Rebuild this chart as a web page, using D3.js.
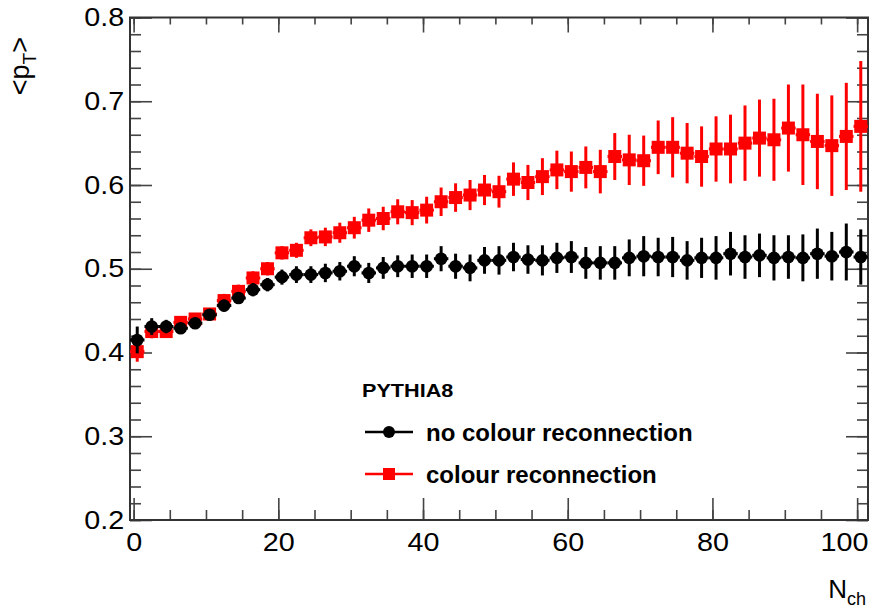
<!DOCTYPE html>
<html>
<head>
<meta charset="utf-8">
<script src="https://cdn.jsdelivr.net/npm/d3@7"></script>
<style>
body { margin: 0; background: #fff; }
svg { display: block; font-family: "Liberation Sans", Arial, Helvetica, sans-serif; }
</style>
</head>
<body>
<svg width="883" height="611"></svg>
<script>
// bin centres in N_ch
var nch = [0.5, 2.5, 4.5, 6.5, 8.5, 10.5, 12.5, 14.5, 16.5, 18.5,
           20.5, 22.5, 24.5, 26.5, 28.5, 30.5, 32.5, 34.5, 36.5, 38.5,
           40.5, 42.5, 44.5, 46.5, 48.5, 50.5, 52.5, 54.5, 56.5, 58.5,
           60.5, 62.5, 64.5, 66.5, 68.5, 70.5, 72.5, 74.5, 76.5, 78.5,
           80.5, 82.5, 84.5, 86.5, 88.5, 90.5, 92.5, 94.5, 96.5, 98.5, 100.5];

// no colour reconnection (black)
var noCR = [0.415, 0.431, 0.431, 0.429, 0.435, 0.445, 0.456, 0.465, 0.475, 0.481,
            0.490, 0.493, 0.493, 0.495, 0.497, 0.503, 0.495, 0.501, 0.503, 0.503,
            0.503, 0.512, 0.503, 0.501, 0.510, 0.510, 0.514, 0.511, 0.510, 0.513,
            0.514, 0.507, 0.507, 0.507, 0.513, 0.515, 0.514, 0.514, 0.510, 0.513,
            0.513, 0.518, 0.514, 0.516, 0.513, 0.514, 0.513, 0.518, 0.515, 0.520, 0.514];
var noCRErr = [0.016, 0.010, 0.008, 0.006, 0.006, 0.006, 0.007, 0.007, 0.008, 0.008,
               0.009, 0.010, 0.010, 0.011, 0.011, 0.012, 0.012, 0.013, 0.013, 0.014,
               0.014, 0.015, 0.015, 0.016, 0.016, 0.017, 0.017, 0.017, 0.018, 0.018,
               0.019, 0.019, 0.020, 0.020, 0.022, 0.024, 0.023, 0.024, 0.023, 0.024,
               0.026, 0.026, 0.026, 0.026, 0.027, 0.026, 0.028, 0.030, 0.029, 0.034, 0.033];

// colour reconnection (red)
var withCR = [0.401, 0.425, 0.425, 0.436, 0.440, 0.446, 0.462, 0.473, 0.489, 0.500,
              0.519, 0.522, 0.537, 0.538, 0.543, 0.549, 0.558, 0.560, 0.568, 0.567,
              0.570, 0.580, 0.585, 0.588, 0.594, 0.592, 0.607, 0.603, 0.610, 0.618,
              0.616, 0.621, 0.616, 0.634, 0.630, 0.629, 0.645, 0.645, 0.638, 0.634,
              0.643, 0.643, 0.650, 0.656, 0.654, 0.668, 0.660, 0.652, 0.647, 0.658, 0.670];
var withCRErr = [0.012, 0.008, 0.007, 0.007, 0.007, 0.007, 0.008, 0.008, 0.008, 0.008,
                 0.008, 0.009, 0.010, 0.011, 0.012, 0.013, 0.014, 0.014, 0.015, 0.015,
                 0.016, 0.017, 0.017, 0.018, 0.018, 0.019, 0.020, 0.021, 0.022, 0.023,
                 0.024, 0.025, 0.026, 0.028, 0.030, 0.030, 0.032, 0.036, 0.036, 0.036,
                 0.039, 0.041, 0.045, 0.046, 0.049, 0.052, 0.060, 0.057, 0.060, 0.064, 0.078];

var xTicks = [0, 20, 40, 60, 80, 100];
var yTicks = [0.2, 0.3, 0.4, 0.5, 0.6, 0.7, 0.8];
var legendTitle = "PYTHIA8";
var legendLabels = ["no colour reconnection", "colour reconnection"];

left = 130; right = 868; top_ = 17.5; bottom = 520;
sx = 1.15; // ROOT fonts look a bit wider than Liberation Sans

var svg = d3.select("svg");

var x = d3.scaleLinear().domain([-0.5, 101.5]).range([left, right]);
var y = d3.scaleLinear().domain([0.2, 0.8]).range([bottom, top_]);

var xMinor = d3.range(0, 101, 5);
var yMinor = d3.range(0.2, 0.8001, 0.02);

// ticks (ROOT style, pointing inwards)
function styleAxis(g) {
  g.select(".domain").remove();
  g.selectAll(".tick line").attr("stroke", "#444").attr("stroke-width", 1.6);
}

svg.append("g").attr("transform", "translate(0," + bottom + ")")
  .call(d3.axisBottom(x).tickValues(xMinor).tickSize(-10).tickFormat(""))
  .call(styleAxis);
svg.append("g").attr("transform", "translate(0," + bottom + ")")
  .call(d3.axisBottom(x).tickValues(xTicks).tickSize(-22).tickPadding(13).tickFormat(d3.format("d")))
  .call(styleAxis)
  .call(g => g.selectAll("text").attr("font-size", 25).attr("fill", "#000")
    .attr("font-family", "Liberation Sans, Arial, sans-serif")
    .attr("transform", "scale(" + sx + ",1)"))
  .call(g => g.selectAll("text").filter(d => d == 100)
    .attr("text-anchor", "end").attr("x", (right - x(100)) / sx));

svg.append("g").attr("transform", "translate(0," + top_ + ")")
  .call(d3.axisTop(x).tickValues(xMinor).tickSize(-7).tickFormat(""))
  .call(styleAxis);
svg.append("g").attr("transform", "translate(0," + top_ + ")")
  .call(d3.axisTop(x).tickValues(xTicks).tickSize(-15).tickFormat(""))
  .call(styleAxis);

svg.append("g").attr("transform", "translate(" + left + ",0)")
  .call(d3.axisLeft(y).tickValues(yMinor).tickSize(-11).tickFormat(""))
  .call(styleAxis);
svg.append("g").attr("transform", "translate(" + left + ",0)")
  .call(d3.axisLeft(y).tickValues(yTicks).tickSize(-22).tickPadding(5).tickFormat(d3.format(".1f")))
  .call(styleAxis)
  .call(g => g.selectAll("text").attr("font-size", 25).attr("fill", "#000")
    .attr("font-family", "Liberation Sans, Arial, sans-serif")
    .attr("transform", "scale(" + sx + ",1)"));

svg.append("g").attr("transform", "translate(" + right + ",0)")
  .call(d3.axisRight(y).tickValues(yMinor).tickSize(-11).tickFormat(""))
  .call(styleAxis);
svg.append("g").attr("transform", "translate(" + right + ",0)")
  .call(d3.axisRight(y).tickValues(yTicks).tickSize(-22).tickFormat(""))
  .call(styleAxis);

// frame
svg.append("rect")
  .attr("x", left).attr("y", top_)
  .attr("width", right - left).attr("height", bottom - top_)
  .attr("fill", "none").attr("stroke", "#333").attr("stroke-width", 2);

// data series
function drawSeries(vals, errs, color, shape) {
  var pts = nch.map(function(d, i) { return {x: d, y: vals[i], e: errs[i]}; });
  var g = svg.append("g");
  g.selectAll("line.ey").data(pts).enter().append("line")
    .attr("x1", d => x(d.x)).attr("x2", d => x(d.x))
    .attr("y1", d => y(d.y - d.e)).attr("y2", d => y(d.y + d.e))
    .attr("stroke", color).attr("stroke-width", 3);
  g.selectAll("line.ex").data(pts).enter().append("line")
    .attr("x1", d => x(d.x - 1)).attr("x2", d => x(d.x + 1))
    .attr("y1", d => y(d.y)).attr("y2", d => y(d.y))
    .attr("stroke", color).attr("stroke-width", 3);
  if (shape == "circle") {
    g.selectAll("circle").data(pts).enter().append("circle")
      .attr("cx", d => x(d.x)).attr("cy", d => y(d.y)).attr("r", 6.3)
      .attr("fill", color);
  } else {
    g.selectAll("rect").data(pts).enter().append("rect")
      .attr("x", d => x(d.x) - 6.5).attr("y", d => y(d.y) - 6.5)
      .attr("width", 13).attr("height", 13)
      .attr("fill", color);
  }
}
drawSeries(withCR, withCRErr, "#ff0000", "square");
drawSeries(noCR, noCRErr, "#000000", "circle");

// legend
var lg = svg.append("g").attr("font-weight", "bold").attr("fill", "#000");
lg.append("text").attr("x", 362 / 1.138).attr("y", 397)
  .attr("font-size", 19).text(legendTitle)
  .attr("transform", "scale(1.138,1)");

lg.append("line").attr("x1", 365).attr("x2", 413).attr("y1", 432).attr("y2", 432)
  .attr("stroke", "#000").attr("stroke-width", 2.5);
lg.append("circle").attr("cx", 389).attr("cy", 432).attr("r", 6).attr("fill", "#000");
lg.append("text").attr("x", 426).attr("y", 441).attr("font-size", 24).text(legendLabels[0]);

lg.append("line").attr("x1", 365).attr("x2", 413).attr("y1", 474).attr("y2", 474)
  .attr("stroke", "#ff0000").attr("stroke-width", 2.5);
lg.append("rect").attr("x", 383).attr("y", 468).attr("width", 12).attr("height", 12).attr("fill", "#ff0000");
lg.append("text").attr("x", 426).attr("y", 483).attr("font-size", 24).text(legendLabels[1]);

// axis titles
var yt = svg.append("text")
  .attr("transform", "translate(29,37) rotate(-90)")
  .attr("text-anchor", "end").attr("font-size", 27);
yt.append("tspan").text("<p");
yt.append("tspan").attr("font-size", 19).attr("dy", 7).text("T");
yt.append("tspan").attr("dy", -7).text(">");

var xt = svg.append("text")
  .attr("x", 866).attr("y", 598)
  .attr("text-anchor", "end").attr("font-size", 26);
xt.append("tspan").text("N");
xt.append("tspan").attr("font-size", 18).attr("dy", 7).text("ch");
</script>
</body>
</html>
